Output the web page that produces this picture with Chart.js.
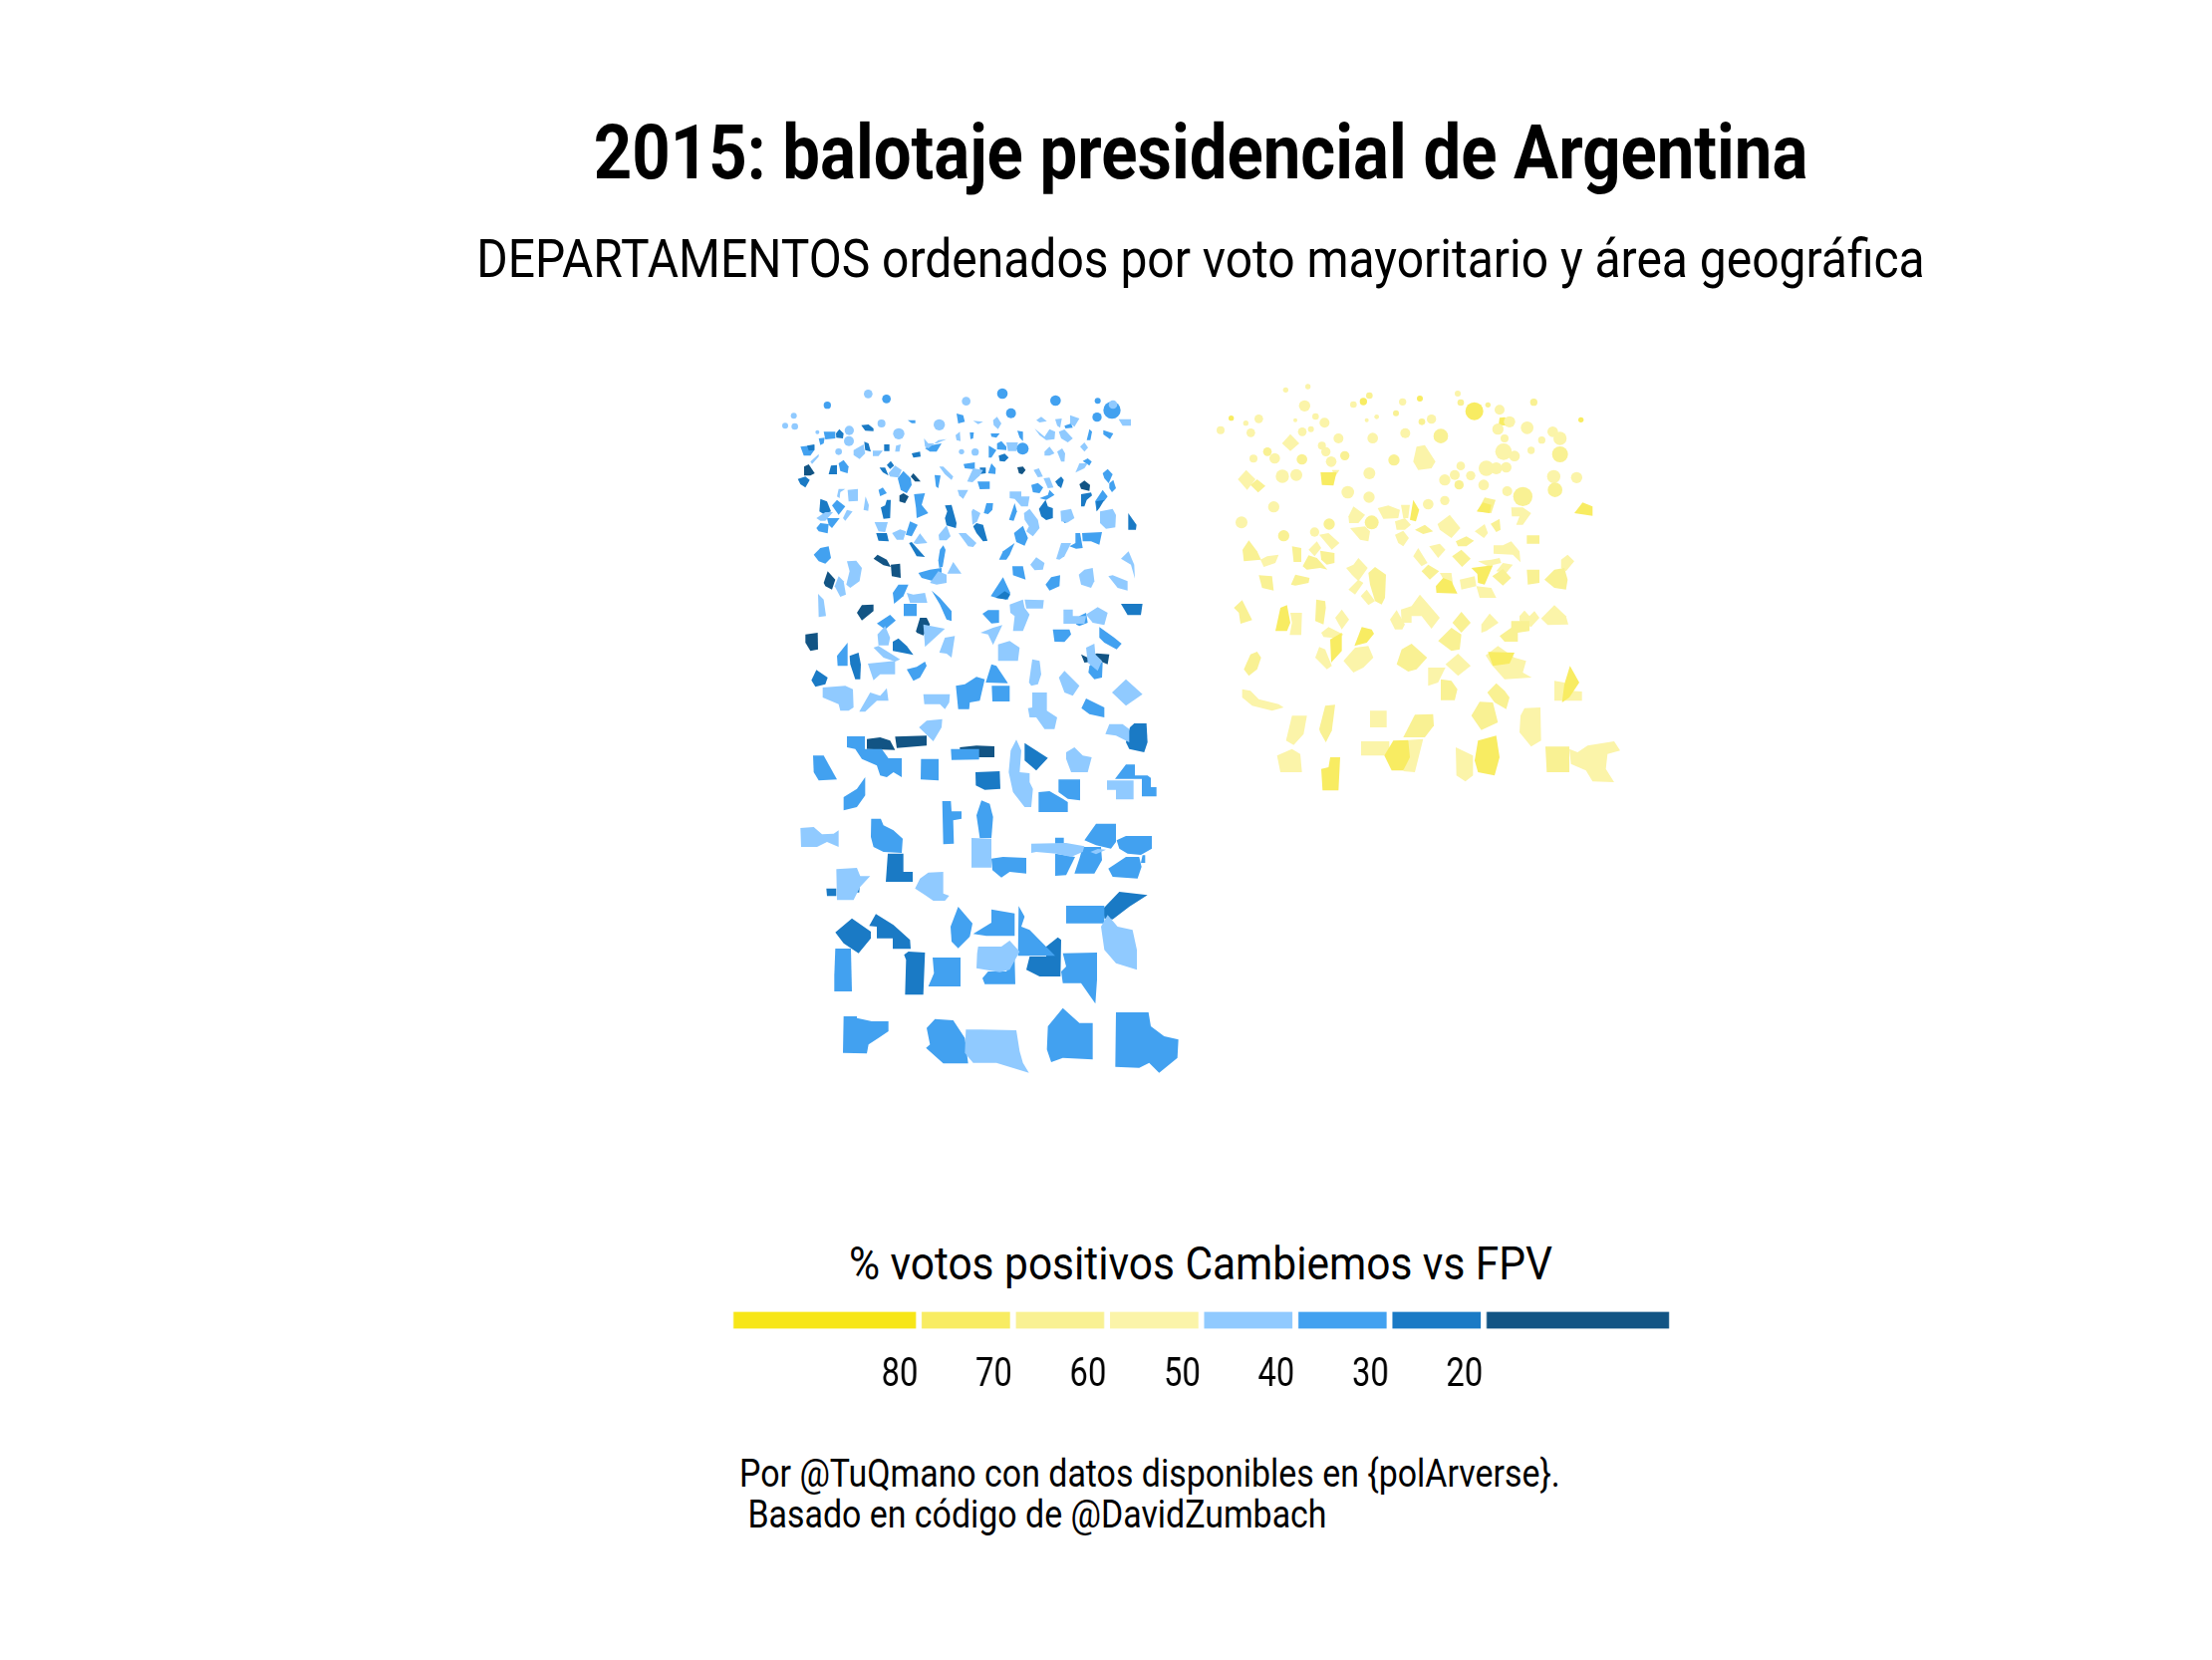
<!DOCTYPE html>
<html>
<head>
<meta charset="utf-8">
<title>balotaje 2015</title>
<script src="https://cdn.jsdelivr.net/npm/chart.js@4"></script>
<style>
  html, body { margin: 0; background: #fff; }
  #page { position: relative; width: 2220px; height: 1666px; overflow: hidden; font-family: Roboto, sans-serif; color: #000; }
  .txt { position: absolute; white-space: pre; line-height: 1; }
  .mid { left: 0; width: 2220px; text-align: center; }
  canvas { position: absolute; }
</style>
</head>
<body>
<div id="page">
  <div class="txt mid" style="top:115px;left:95px;font-size:76px;font-weight:700;transform:scaleX(.883)">2015: balotaje presidencial de Argentina</div>
  <div class="txt mid" style="top:234px;left:95px;font-size:53px;transform:scaleX(.905)">DEPARTAMENTOS ordenados por voto mayoritario y área geográfica</div>
  <div class="txt mid" style="top:1244px;left:95px;font-size:47px;transform:scaleX(.903)">% votos positivos Cambiemos vs FPV</div>
  <div class="txt" style="left:742px;top:1459px;font-size:38px;line-height:41px;transform-origin:left top;transform:scaleX(.892)">Por @TuQmano con datos disponibles en {polArverse}.
 Basado en código de @DavidZumbach</div>
  <canvas id="map" width="900" height="720" style="left:760px;top:370px"></canvas>
  <!-- drawn wider and squeezed by css, there is no condensed font for the tick labels -->
  <canvas id="band" width="1225" height="96" style="left:718px;top:1301px;width:980px;height:96px"></canvas>
</div>
<script>
// departamentos: [x, y, radio] para los chicos, contorno x,y,x,y... para el resto
// unidades de mapa, tres bloques (FPV arriba, FPV abajo, Cambiemos)

const blobsLight = [[1071,108,13],[334,76,13],[110,142,9],[84,172,9],[113,174,10],[629,98,13],[374,165,12],[277,186,14],[426,196,17],[548,169,17],[276,218,15],[245,250,10],[656,251,11],[181,191,6],[615,250,8]];
const blobsMid = [[211,110,11],[389,91,13],[738,75,16],[764,134,15],[898,96,16],[1025,97,9],[1023,146,14],[1068,125,26],[799,241,18]];

const topLight = [[650,157,680,160,665,167],[710,155,722,145,735,165,725,182,712,170],[835,180,865,205,880,182,897,190,895,212,870,215,850,200],[840,155,855,145,872,158,850,162],[897,152,917,150,912,178,903,172],[942,140,970,150,955,175,942,165],[908,190,925,183,950,210,935,222,915,210],[1088,152,1125,152,1125,172,1100,172],[160,280,185,257,185,265,165,287],[290,245,320,228,325,255,308,272,290,260],[348,247,378,247,365,263,348,263],[418,232,432,228,428,250,415,250],[597,200,610,190,612,218,600,215],[502,210,515,225,540,225,570,212,545,215,515,240,505,235],[750,222,785,222,780,248,755,248],[865,250,880,235,895,255,880,262,865,262],[903,250,918,240,927,255,925,280,915,280],[972,235,985,222,996,238,985,250],[958,313,970,285,995,285,985,300],[395,315,415,292,435,305,425,328,400,325],[548,295,560,295,590,325,585,335,565,318],[632,340,650,300,680,305,670,322,648,342],[832,305,848,300,860,325,845,327],[862,330,880,328,892,358,875,360],[603,365,635,365,620,392,608,382],[760,370,795,370,795,385,820,385,815,415,795,415,775,392,760,390],[803,435,820,422,845,455,850,480,830,505,810,490,818,475,805,455],[913,428,945,422,955,450,935,463,915,460],[1032,430,1070,422,1080,440,1078,478,1050,482,1032,465],[240,385,245,362,265,362,250,372,248,390],[272,365,303,362,303,398,275,400],[178,450,205,432,228,432,205,458,190,458],[258,450,270,425,287,430,265,458],[320,425,326,385,336,410,334,428],[353,462,393,462,385,492,365,490],[406,495,430,484,448,490,440,515,420,515],[546,500,570,472,582,505,570,517,548,517],[470,525,490,496,512,525,480,528],[606,495,628,495,660,525,650,537,635,535],[645,430,650,422,672,435,662,460,648,470],[900,573,915,525,945,525,925,565,910,575],[822,590,840,568,865,585,860,605,835,607],[1095,572,1118,550,1135,590,1137,632,1125,590],[1057,625,1070,622,1115,640,1115,668,1085,660],[968,620,985,605,1010,600,1015,640,1005,660,975,650],[233,655,245,625,260,640,267,680,250,687],[270,580,298,578,315,600,308,640,280,660,268,650,278,610],[520,645,545,610,570,620,570,645,540,650],[572,617,590,582,615,617],[450,675,470,680,505,675,512,705,460,705],[183,678,200,695,207,745,185,748],[672,795,710,780,738,772,710,832,695,800],[760,710,800,695,805,720,820,740,800,790,770,790,775,745,762,735],[805,695,863,697,860,722,810,722],[922,725,950,725,950,745,990,745,985,768,922,768],[990,740,1025,718,1055,735,1045,772,1010,765],[500,770,565,783,505,838],[362,800,385,775,400,810,395,833,365,833],[548,855,565,810,595,805,585,870,570,858],[725,830,760,820,790,840,785,880,725,880],[818,945,828,875,850,880,855,920,845,950,825,955],[908,930,925,910,970,955,950,985,925,975],[350,840,365,835,430,875,415,882,380,870],[333,888,415,880,415,920,370,920,350,938],[197,960,265,955,288,965,290,1020,275,1030,250,1030,245,1010,197,990],[307,1033,340,975,370,985,390,962,395,1000,360,1000,325,1033],[500,980,580,980,578,1005,565,1025,550,1010,503,1010],[828,975,872,975,872,1030,903,1050,820,1050,815,1022,828,1020],[1068,975,1110,935,1160,980,1110,1015],[990,840,1015,828,1018,860,1038,880,1025,910,995,885]];
const topMid = [[453,155,476,155,476,164,465,164],[600,135,620,140,625,160,605,165],[925,172,945,165,950,178,928,180],[992,215,1000,182,1008,190,1003,215],[1042,185,1072,195,1062,212,1042,198],[200,190,235,190,235,210,205,213],[185,210,203,208,200,225,190,230],[130,235,172,230,172,245,160,262,140,262],[640,192,652,192,650,210,642,212],[505,240,525,230,555,225,540,250,520,250],[703,195,730,195,720,208,705,205],[783,187,800,190,800,218,790,208],[722,225,735,218,750,235,750,245,722,243],[697,232,720,245,705,268,697,268],[980,278,995,270,1007,280,1000,292],[1040,315,1055,302,1070,318,1058,345,1045,330],[1060,345,1072,335,1080,360,1068,372,1060,360],[245,285,260,275,275,295,272,315,250,308],[423,330,440,308,462,330,465,350,450,375,432,365],[365,365,378,358,390,375,370,384],[534,320,552,322,545,360,538,355],[621,287,655,282,655,303,625,300],[695,315,705,285,718,300,717,317],[825,350,845,344,861,358,850,375,830,372],[1017,400,1030,380,1040,365,1055,385,1045,398,1030,405,1022,430],[850,390,875,380,880,365,895,380,870,395],[663,340,700,340,700,362,670,363],[758,455,775,405,782,430,772,458],[915,450,935,462,925,465],[225,412,240,395,265,415,245,440],[210,450,248,450,225,480,215,470],[178,480,190,465,215,468,212,496,185,490],[447,500,460,460,483,470,465,505],[472,378,505,375,495,410,515,435,480,450,478,420],[660,480,680,490,692,518,680,518],[682,435,690,405,710,405,708,425,695,438],[773,495,800,473,815,510,805,533,780,522],[728,575,740,550,775,525,760,560,750,575],[940,535,958,525,958,495,972,495,980,540,960,542],[978,495,1038,492,1030,530,1005,520,980,520],[170,560,190,540,215,535,222,570,205,587,185,580],[768,595,800,595,808,635,770,622],[868,650,885,628,912,622,910,655,880,668],[550,545,560,532,567,545,558,597,548,600,545,577],[485,615,520,605,555,600,555,640,530,640,495,630],[408,675,425,650,455,650,440,685,412,708],[441,708,480,708,480,745,441,745],[525,668,550,690,585,730,585,760,570,755,550,710],[703,685,740,628,762,675,755,695,720,690],[678,738,695,727,728,727,728,765,705,767],[960,770,970,745,990,735,995,765,970,775],[890,785,940,785,945,800,925,823,895,822],[1030,778,1075,810,1097,828,1082,845,1045,825,1030,810],[360,767,400,741,417,758,385,785],[240,865,272,825,272,895,242,895],[450,905,480,898,505,882,510,895,490,930,470,940],[598,955,625,950,660,928,685,935,670,1000,640,1005,638,1025,605,1025],[688,945,705,890,720,895,755,947],[706,955,760,955,760,1002,708,1002],[976,1022,990,993,1045,1020,1045,1050,1000,1040],[1000,895,1020,880,1040,885,1038,930,1015,935,997,915]];
const topDark = [[237,195,247,182,260,195,258,210,238,208],[313,170,335,168,350,180,350,188,325,187],[150,232,172,228,172,245,155,247],[322,220,335,225,342,250,325,245],[382,228,398,228,398,248,382,248],[465,255,490,250,492,265,470,268],[727,262,745,256,757,268,745,280,730,278],[215,318,222,292,240,290,240,318],[122,332,145,325,158,335,145,358,130,348],[368,298,385,298,395,322,378,312],[390,290,402,278,412,292,400,302],[670,298,688,298,688,315,672,317],[897,340,915,325,923,335,915,360,905,352],[975,378,1005,373,1008,382,992,395,985,415,975,415],[1020,400,1045,395,1030,420,1022,430],[848,422,868,395,875,415,890,420,890,450,870,456,855,445],[1117,435,1142,470,1140,485,1117,485],[187,430,190,392,210,400,222,430,200,438],[372,418,385,412,390,395,402,395,400,450,380,452],[358,495,390,495,396,520,365,518],[565,412,585,410,600,465,598,480,570,472,565,450,572,430],[650,475,660,465,680,470,693,518,680,520,660,495],[457,525,465,522,505,567,480,565],[718,690,745,670,762,680,750,695],[1095,708,1160,708,1155,742,1115,742],[408,822,425,812,450,835,470,862,408,850],[278,865,305,855,312,890,310,935,295,935,280,890],[163,938,178,907,212,930,205,950,175,958]];
const topNavy = [[141,295,155,288,173,315,160,322,141,322],[462,325,470,315,492,340,475,340],[428,382,440,375,456,385,445,405,428,400],[783,297,800,295,808,305,798,318,788,315],[970,348,985,337,1002,350,1000,368,975,362],[350,572,362,560,390,575,402,597,380,592],[402,590,430,587,432,630,405,625],[200,645,212,610,235,635,225,665,205,655],[300,735,315,712,350,710,350,730,315,758],[478,790,490,750,510,750,520,770,500,803,480,795],[145,800,182,795,183,845,160,850,145,825],[975,860,995,870,1022,857,1060,860,1055,890,1030,880,985,885]];

const lowLight = [[427,30,450,10,497,5,495,30,470,72],[780,0,843,0,835,35,805,35],[988,50,1000,20,1040,20,1060,35,1060,75,1020,55],[697,165,703,100,720,67,735,100,730,165,760,168,760,195,770,215,765,270,745,270,710,225],[870,105,895,90,920,115,947,120,935,165,885,165,870,125],[993,190,1073,190,1073,247,1020,247,1020,218,993,218],[585,363,645,365,645,452,585,452],[70,333,110,330,135,352,170,350,185,340,185,390,150,375,120,390,72,390],[178,457,240,453,250,478,280,478,250,510,230,550,180,550],[415,515,430,485,455,467,500,465,500,530,518,537,505,552,470,552,445,535],[765,380,870,378,925,388,920,405,885,420,840,410,780,405,765,408],[943,405,965,396,990,398,960,412],[602,710,605,690,675,690,700,672,730,705,700,760,670,767,600,755],[975,630,995,595,1025,630,1070,640,1083,700,1083,760,1020,740,985,700],[568,940,615,940,720,942,730,1005,740,1040,758,1070,660,1040,590,1040,565,1010]];
const lowMid = [[210,57,264,57,264,95,315,95,335,123,375,123,375,180,350,165,330,180,310,175,300,145,255,125,235,95,210,90],[523,95,608,95,608,127,525,128],[108,115,140,115,180,187,125,190,110,165],[433,125,486,125,486,190,432,187],[200,240,240,215,265,180,265,235,240,270,200,280],[847,187,912,187,912,250,875,245,847,225],[787,225,820,222,860,245,875,255,875,285,787,285],[1017,185,1050,142,1077,142,1077,175,1115,175,1125,182,1125,210,1142,210,1142,238,1098,238,1098,185],[497,252,523,252,525,283,555,283,555,305,530,310,532,380,500,382],[600,295,615,250,640,260,650,300,645,363,610,363],[645,425,680,420,750,423,750,470,700,465,675,482,648,460],[283,305,312,305,320,325,350,340,378,365,375,408,320,405,290,390,282,360],[925,370,960,320,1020,320,1020,375,1005,395,960,385],[1022,370,1050,357,1128,357,1128,395,1095,414,1055,410,1030,395],[1100,415,1108,415,1108,438,1095,438],[997,455,1050,420,1090,420,1097,450,1085,485,1010,480],[837,362,863,362,863,380,837,380],[837,410,897,420,870,475,837,477],[920,390,975,390,978,430,955,470,895,470,910,425],[522,630,545,570,588,620,580,660,545,695,525,675],[590,652,645,618,645,578,715,590,715,658,630,658],[727,568,745,600,735,630,760,640,837,718,725,718],[645,765,690,765,715,725,717,803,625,803,618,785,635,765],[870,567,985,567,985,620,870,620],[860,710,963,708,963,790,958,862,915,800,860,800,855,765,870,750],[175,696,222,696,225,825,172,825,172,775],[468,723,552,723,552,810,455,810,472,770],[200,900,240,900,240,905,285,915,335,915,335,945,305,965,275,985,270,1012,198,1010],[450,935,475,908,530,912,565,965,575,1042,500,1042,448,995,460,985],[815,930,860,875,910,920,950,920,950,1030,860,1025,825,1038,812,1000],[1020,888,1118,888,1125,930,1165,960,1208,970,1205,1025,1150,1070,1120,1040,1090,1055,1018,1052]];
const lowDark = [[1050,75,1062,30,1075,18,1112,18,1115,75,1105,105,1060,95],[597,165,670,162,672,215,625,218,598,205],[745,77,815,122,780,160,745,130],[333,410,380,410,380,465,408,465,408,495,327,495],[148,515,178,515,178,538,150,538],[240,465,250,480,247,527,235,527],[760,720,810,720,810,690,845,662,855,670,853,780,790,780,750,760],[982,575,1030,525,1115,535,1060,570,1010,608,985,605],[175,647,225,605,282,645,282,665,245,710,200,680],[277,628,297,592,350,625,400,670,402,697,348,697,348,665,300,665,300,630],[382,715,395,705,445,708,440,835,385,835,388,730]];
const lowNavy = [[270,65,310,60,340,70,355,98,270,95],[355,58,450,55,450,85,360,92],[550,90,600,85,654,87,654,120,550,120]];

const blobsY70 = [[107,149,8],[505,99,11],[675,90,9],[839,128,27],[1160,154,8]];
const blobsY60 = [[523,81,10],[603,134,9],[681,160,10],[798,102,10],[880,109,8],[1018,101,11],[449,262,14],[216,250,13],[597,275,17],[320,273,16],[402,468,17],[265,503,17],[530,463,21],[738,203,22],[1097,258,24],[985,385,29],[1082,365,22],[793,350,14]];
const blobsY50 = [[271,64,8],[338,54,8],[328,112,17],[190,151,13],[151,164,8],[75,185,12],[166,193,13],[361,144,10],[347,182,9],[789,75,9],[533,209,16],[631,194,15],[430,210,15],[321,190,13],[388,163,15],[238,270,16],[174,271,12],[380,232,12],[392,250,14],[408,280,16],[261,324,20],[303,320,18],[523,315,18],[458,372,19],[522,387,17],[235,416,17],[138,463,18],[358,492,14],[710,152,14],[1010,246,11],[1042,215,11],[960,263,16],[927,250,25],[930,210,12],[998,178,19],[910,182,17],[945,160,17],[915,124,15],[1075,190,16],[1097,210,20],[798,293,13],[750,335,17],[780,320,15],[828,322,14],[875,300,23],[905,300,18],[935,297,16],[867,350,16],[938,369,15],[1147,328,17],[1078,325,20],[300,155,6],[515,155,6],[545,145,7],[475,108,10],[623,100,11],[700,408,16],[750,397,14]];

const polysY70 = [[376,312,424,312,415,352,380,350],[645,455,655,395,673,425,663,460],[846,430,865,403,890,410,885,435],[1140,435,1165,403,1195,415,1195,443],[830,600,895,592,870,650,850,645,848,618],[723,655,745,630,770,640,788,677,725,675],[240,790,255,720,275,712,285,765,275,790],[405,815,440,795,440,850,408,885],[478,835,500,778,530,785,537,798,515,825],[880,853,960,855,945,888,895,895],[1103,1005,1110,950,1127,895,1155,945,1125,990],[378,1205,400,1200,405,1170,435,1170,430,1270,382,1270],[568,1165,595,1120,640,1118,645,1170,625,1210,590,1210],[840,1180,850,1120,905,1105,915,1170,900,1225,850,1215],[915,148,930,146,950,160,945,172,912,170]];
const polysY60 = [[165,350,185,333,210,353,188,373],[660,485,690,470,715,490,685,498],[888,467,915,452,918,485,905,492],[783,520,815,505,838,518,815,535,790,535],[848,430,870,388,903,395,890,435],[997,502,1035,502,1035,527,997,527],[141,545,160,517,185,550,197,575,145,580],[290,535,318,540,318,582,295,582],[375,548,418,555,418,585,395,590,378,575],[322,595,340,562,365,570,397,605,375,600,335,605],[190,622,230,625,235,668,200,660],[287,650,300,620,320,625,343,630,340,645,300,653],[520,615,540,597,573,620,570,690,560,710,540,700,525,650],[772,565,800,545,828,572,802,597],[680,610,700,590,733,610,705,635],[893,625,925,603,950,630,925,653],[997,605,1035,605,1035,645,1000,650],[1050,635,1080,605,1110,600,1120,635,1115,665,1080,660],[115,720,140,697,170,757,135,768,130,735],[363,695,390,700,392,720,385,770,360,760],[773,765,800,732,828,765,800,795],[730,820,770,780,800,800,795,845,770,850],[915,805,950,780,950,760,1005,760,1005,790,970,795,970,822,930,822],[145,905,165,860,185,852,197,870,185,905,160,925],[605,890,620,845,650,828,697,870,665,905,640,912],[738,935,770,940,788,965,780,998,738,998],[878,975,905,947,930,970,945,990,935,1025,900,1005],[372,1085,390,1015,420,1012,410,1090,392,1125,375,1095],[625,1110,660,1042,715,1040,717,1075,690,1110],[830,1045,855,1003,895,1005,910,1065,860,1088],[1053,1138,1125,1138,1125,1215,1057,1215]];
const polysY50 = [[260,225,285,197,312,225,285,248],[127,333,152,305,180,333,155,365],[410,305,433,305,420,325],[655,280,665,235,690,230,722,280,710,300,670,305],[618,410,645,410,640,450,625,450],[548,420,580,412,615,425,610,450,565,452],[600,460,630,450,648,470,630,485,605,485],[460,445,475,415,510,440,490,465,462,465],[465,480,510,475,525,490,520,520,495,515],[600,500,625,488,642,510,625,535,610,525],[728,468,765,440,797,480,770,510,735,485],[840,490,870,468,880,495,868,510],[950,418,985,418,1010,435,985,470,965,470,975,445,952,445],[897,532,925,532,950,520,975,550,978,583,955,560,897,557],[195,575,215,565,250,560,240,585,205,597],[340,545,365,520,378,540,358,565],[372,500,400,495,433,525,410,545],[453,600,475,590,490,570,518,600,490,640,470,620],[460,665,490,635,505,645,480,680],[497,685,515,665,540,700,520,712],[655,565,670,540,698,585,680,595],[703,535,735,527,752,545,730,570],[850,580,890,575,915,570,920,585,880,595],[925,585,955,590,935,615,905,610],[735,615,770,615,775,650,745,632],[795,635,840,625,845,655,800,665],[845,655,890,660,905,690,855,690],[1100,575,1120,560,1140,580,1115,610,1100,600],[285,735,320,735,318,802,283,802,290,765],[420,750,440,725,462,755,440,785],[378,795,400,778,445,800,430,812,385,808],[360,870,372,838,390,845,410,895,395,905],[445,880,480,840,520,835,535,870,505,900,475,915],[585,755,605,727,630,770,622,785,600,785],[618,725,650,715,675,680,705,715,735,750,710,783,680,745,650,745,650,765,620,765],[860,770,885,737,912,765,875,790,860,795],[975,745,990,728,1005,745,1020,730,1035,750,1010,778,975,760],[1040,752,1080,712,1115,745,1122,770,1060,772],[752,890,790,858,828,895,790,925],[700,900,752,900,730,945,700,955],[873,863,910,835,960,870,995,880,985,915,1012,930,930,935,890,890],[1080,940,1110,945,1125,970,1163,972,1163,1000,1080,1000],[140,965,165,970,190,995,250,1010,265,1020,230,1030,170,1015,140,990],[290,1045,335,1045,325,1100,295,1133,272,1120],[245,1165,290,1145,315,1160,320,1215,255,1215],[525,1030,575,1030,575,1080,525,1080],[498,1122,583,1122,583,1165,498,1165],[640,1118,685,1115,660,1215,625,1212],[783,1140,835,1165,835,1225,812,1243,785,1225],[990,1022,1038,1020,1040,1120,1010,1138,975,1095,978,1045],[1125,1145,1150,1155,1180,1135,1260,1122,1278,1150,1240,1160,1235,1205,1260,1245,1195,1243,1175,1210,1130,1190]];

// leyenda
const legendBins = [20, 10, 10, 10, 10, 10, 10, 20];
const legendTicks = [20, 30, 40, 50, 60, 70, 80];

const cNavy = '#125484', cDark = '#1A7AC5', cMid = '#42A1F0', cLight = '#90CAFF';
const cY80 = '#F7E617', cY70 = '#F8EC62', cY60 = '#F9F193', cY50 = '#FBF4A9';
const legendColors = [cNavy, cDark, cMid, cLight, cY50, cY60, cY70, cY80];

const lowShift = [60, 1050];
const yellowShift = [1320, 0];

function blobSet(list, color, dx, dy) {
  return {
    type: 'bubble',
    backgroundColor: color,
    borderWidth: 0,
    data: list.map(b => ({ x: b[0] + dx, y: b[1] + dy, r: b[2] / 3 }))
  };
}

function polySets(list, color, dx, dy) {
  return list.map(p => {
    const pts = [];
    for (let i = 0; i < p.length; i += 2) pts.push({ x: p[i] + dx, y: p[i + 1] + dy });
    return {
      type: 'scatter',
      showLine: true,
      fill: 'shape',
      backgroundColor: color,
      borderColor: color,
      borderWidth: 0,
      pointRadius: 0,
      tension: 0,
      data: pts
    };
  });
}

// the first dataset ends up on top
const mapSets = [
  blobSet(blobsLight, cLight, 0, 0),
  blobSet(blobsMid, cMid, 0, 0),
  blobSet(blobsY70, cY70, yellowShift[0], yellowShift[1]),
  blobSet(blobsY60, cY60, yellowShift[0], yellowShift[1]),
  blobSet(blobsY50, cY50, yellowShift[0], yellowShift[1]),
  ...polySets(polysY70, cY70, yellowShift[0], yellowShift[1]),
  ...polySets(polysY60, cY60, yellowShift[0], yellowShift[1]),
  ...polySets(polysY50, cY50, yellowShift[0], yellowShift[1]),
  ...polySets(topLight, cLight, 0, 0),
  ...polySets(lowLight, cLight, lowShift[0], lowShift[1]),
  ...polySets(topDark, cDark, 0, 0),
  ...polySets(topMid, cMid, 0, 0),
  ...polySets(lowMid, cMid, lowShift[0], lowShift[1]),
  ...polySets(lowDark, cDark, lowShift[0], lowShift[1]),
  ...polySets(topNavy, cNavy, 0, 0),
  ...polySets(lowNavy, cNavy, lowShift[0], lowShift[1])
];

new Chart(document.getElementById('map'), {
  type: 'bubble',
  data: { datasets: mapSets },
  options: {
    responsive: false,
    animation: false,
    devicePixelRatio: 1,
    layout: { padding: 0, autoPadding: false },
    plugins: { legend: { display: false }, tooltip: { enabled: false } },
    scales: {
      x: { type: 'linear', display: false, min: 0, max: 2700 },
      y: { type: 'linear', display: false, min: 0, max: 2160, reverse: true }
    }
  }
});

new Chart(document.getElementById('band'), {
  type: 'bar',
  data: {
    labels: ['voto'],
    datasets: legendBins.map((v, i) => ({
      data: [v],
      backgroundColor: legendColors[i],
      borderColor: '#fff',
      borderWidth: { left: 4, right: 4, top: 0, bottom: 0 },
      borderSkipped: false,
      barThickness: 17
    }))
  },
  options: {
    indexAxis: 'y',
    responsive: false,
    animation: false,
    devicePixelRatio: 1,
    layout: { padding: { left: 19, right: 25, top: 0, bottom: 0 }, autoPadding: false },
    plugins: { legend: { display: false }, tooltip: { enabled: false } },
    scales: {
      y: { stacked: true, display: false },
      x: {
        stacked: true,
        type: 'linear',
        min: 0,
        max: 100,
        reverse: true,
        grid: { display: false },
        border: { display: false },
        afterBuildTicks: axis => { axis.ticks = legendTicks.map(v => ({ value: v })); },
        ticks: {
          autoSkip: false,
          maxRotation: 0,
          labelOffset: -24,
          padding: -1,
          color: '#000',
          font: { family: 'Roboto, sans-serif', size: 41 }
        }
      }
    }
  }
});
</script>
</body>
</html>
